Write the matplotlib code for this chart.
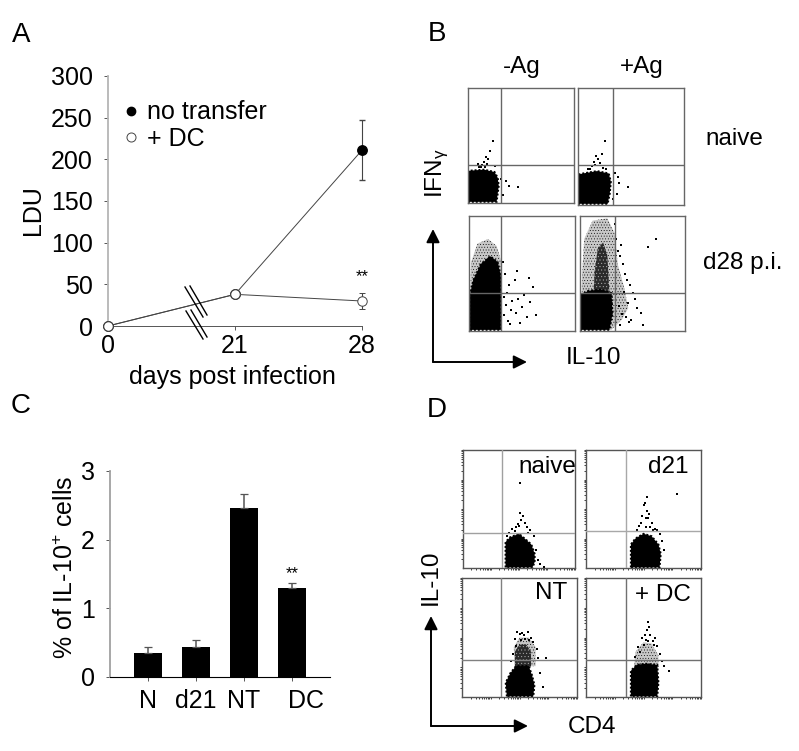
import matplotlib
matplotlib.use("Agg")
import matplotlib.pyplot as plt
import numpy as np
from matplotlib.lines import Line2D
from matplotlib.transforms import ScaledTranslation

plt.rcParams['font.family'] = ['Liberation Sans', 'DejaVu Sans']
plt.rcParams['mathtext.default'] = 'regular'
plt.rcParams['hatch.linewidth'] = 0.3

W, H = 799, 751

# panel A
dias = ["0", "21", "28"]
no_transfer = [0, 38, 211]
no_transfer_err = [0, 0, 36]
mas_dc = [0, 38, 30]
mas_dc_err = [0, 0, 10]
ldu_ticks = [0, 50, 100, 150, 200, 250, 300]

# panel C
grupos = ["N", "d21", "NT", "DC"]
il10 = [0.35, 0.44, 2.46, 1.30]
il10_err = [0.08, 0.10, 0.20, 0.065]

# flow plots, all coordinates in % of the plot box
b_cores = [
    [(0, 1), (27, 1), (28, 8), (29, 15), (28, 22), (25, 27), (15, 29), (0, 28)],
    [(0, 1), (28, 1), (30, 10), (31, 20), (29, 27), (18, 29), (5, 27), (0, 26)],
    [(1, 1), (30, 1), (30, 48), (27, 60), (20, 65), (11, 58), (4, 44), (1, 32)],
    [(0, 1), (28, 1), (31, 15), (30, 33), (20, 36), (8, 35), (0, 31)],
]
b_mid = [
    None,
    None,
    None,
    [(13, 34), (14, 52), (17, 72), (22, 77), (26, 66), (27, 50), (28, 34)],
]
b_haze = [
    None,
    None,
    [(1, 1), (30, 1), (30, 62), (26, 74), (18, 80), (8, 76), (2, 60), (1, 30)],
    [(1, 1), (30, 1), (40, 10), (46, 20), (42, 38), (36, 58), (33, 85), (26, 98), (12, 96),
     (4, 80), (2, 50)],
]
b_dots = [
    ([13, 15, 17, 19, 24, 12, 25, 31, 36, 39, 47, 33, 21, 10, 9, 16, 18],
     [33, 36, 40, 38, 54, 31, 32, 21, 19, 15, 14, 7, 45, 31, 34, 31, 34]),
    ([13, 15, 17, 19, 21, 25, 9, 24, 35, 38, 39, 47, 37, 33, 26, 23, 16, 11],
     [33, 37, 42, 39, 36, 55, 31, 32, 27, 24, 19, 15, 9, 5, 31, 44, 34, 31]),
    ([33, 35, 40, 44, 46, 52, 58, 38, 43, 55, 34, 37, 48, 60, 32, 36, 41, 50, 63, 57, 33, 39, 45],
     [30, 23, 18, 16, 28, 31, 25, 40, 44, 12, 50, 9, 7, 38, 60, 33, 26, 21, 14, 46, 14, 6, 52]),
    ([36, 38, 41, 43, 45, 48, 50, 52, 37, 40, 44, 47, 54, 58, 65, 72, 34, 39, 42, 46, 49, 60, 38, 33],
     [70, 65, 58, 50, 44, 40, 33, 28, 22, 15, 12, 8, 20, 16, 73, 80, 80, 75, 34, 24, 10, 5, 5, 93]),
]
b_gates = [(31, 33), (33, 34), (30, 33), (33, 33)]

d_cores = [
    [(38, 0.5), (38, 22), (42, 26), (50, 29), (55, 25), (61, 20), (64, 12), (64, 5), (62, 0.5)],
    [(39, 0.5), (39, 20), (43, 25), (50, 29), (57, 27), (63, 20), (65, 12), (64, 0.5)],
    [(39, 0.5), (38, 12), (42, 20), (47, 26), (58, 26), (61, 18), (63, 10), (62, 0.5)],
    [(39, 0.5), (39, 22), (44, 27), (52, 28), (62, 27), (63, 12), (62, 0.5)],
]
d_mid = [
    None,
    None,
    [(46, 25), (46, 38), (50, 44), (56, 44), (60, 38), (60, 25)],
    None,
]
d_haze = [
    None,
    None,
    [(46, 25), (45, 42), (50, 50), (58, 50), (64, 42), (64, 26)],
    [(42, 27), (43, 38), (50, 46), (57, 45), (63, 35), (63, 25)],
]
d_dots = [
    ([51, 51, 52, 49, 47, 55, 57, 44, 60, 41, 63, 67, 69, 72, 54, 46, 50, 58, 39, 65],
     [72, 47, 41, 37, 35, 38, 35, 33, 32, 30, 27, 7, 3, 1, 44, 31, 36, 30, 27, 15]),
    ([53, 51, 50, 53, 55, 79, 52, 48, 46, 57, 60, 62, 66, 68, 49, 56, 54, 44, 64, 52, 58],
     [60, 55, 53, 48, 46, 63, 42, 38, 36, 38, 33, 32, 23, 15, 44, 35, 42, 32, 29, 35, 32]),
    ([48, 50, 52, 54, 57, 46, 60, 62, 65, 73, 66, 44, 43, 68, 70, 55, 58, 51, 47],
     [55, 53, 54, 52, 55, 49, 50, 46, 40, 33, 33, 36, 30, 20, 8, 49, 48, 48, 43]),
    ([54, 55, 53, 51, 49, 56, 60, 58, 62, 45, 43, 66, 68, 72, 54, 52, 59, 50, 47, 64],
     [63, 59, 56, 52, 50, 52, 50, 47, 43, 42, 34, 30, 26, 22, 47, 48, 44, 44, 38, 36]),
]
d_gates = [(35, 30), (35, 31), (34, 31), (35, 31)]


def ejes_px(fig, izq, arriba, der, abajo):
    return fig.add_axes([izq / W, 1 - abajo / H, (der - izq) / W, (abajo - arriba) / H])


def panelA(fig):
    ax = ejes_px(fig, 108, 76, 362, 326)
    x = np.arange(len(dias))
    ax.errorbar(x, no_transfer, yerr=no_transfer_err, color='#444444', lw=0.7, marker='o',
                ms=6.8, mfc='black', mec='black', capsize=2, elinewidth=0.8, clip_on=False, zorder=3)
    ax.errorbar(x, mas_dc, yerr=mas_dc_err, color='#444444', lw=0.7, marker='o',
                ms=6.8, mfc='white', mec='#444444', mew=0.7, capsize=2, elinewidth=0.8,
                clip_on=False, zorder=4)
    ax.set_xlim(0, 2)
    ax.set_ylim(0, 300)
    ax.set_yticks(ldu_ticks)
    ax.set_xticks(x)
    ax.set_xticklabels(dias)
    ax.tick_params(axis='both', labelsize=18, length=3, width=0.7, color='#555555')
    ax.tick_params(axis='x', pad=3)
    ax.tick_params(axis='y', pad=8)
    for lado in ['top', 'right']:
        ax.spines[lado].set_visible(False)
    ax.spines['left'].set_color('#b5b5b5')
    ax.spines['left'].set_linewidth(1.3)
    ax.spines['bottom'].set_color('#555555')
    ax.spines['bottom'].set_linewidth(0.7)
    ax.set_ylabel("LDU", fontsize=18, labelpad=4, y=0.464)
    ax.set_xlabel("days post infection", fontsize=18, labelpad=5, x=0.49)
    ax.text(2, 59, "**", ha='center', va='center', fontsize=12)
    handles = [Line2D([], [], ls='none', marker='o', ms=6, mfc='black', mec='black'),
               Line2D([], [], ls='none', marker='o', ms=6.5, mfc='white', mec='#444444', mew=0.7)]
    ax.legend(handles, ["no transfer", "+ DC"], loc='upper left', bbox_to_anchor=(-0.037, 0.992),
              frameon=False, fontsize=18, handlelength=0.8, handletextpad=0.25, labelspacing=0.1)


def panelC(fig):
    ax = ejes_px(fig, 110, 471, 330, 677)
    x = np.arange(len(grupos))
    ax.bar(x, il10, width=0.6, color='black', zorder=2,
           yerr=[[0] * len(il10), il10_err], ecolor='#555555',
           error_kw=dict(elinewidth=1.1, capsize=3, capthick=0.9))
    ax.set_xlim(-0.79, 3.79)
    ax.set_ylim(0, 3)
    ax.set_yticks([0, 1, 2, 3])
    ax.set_xticks(x)
    ax.set_xticklabels(grupos)
    ax.tick_params(axis='both', labelsize=18, length=3, width=0.7, color='#555555')
    ax.tick_params(axis='x', pad=6)
    ax.tick_params(axis='y', pad=8)
    # DC label sits to the right of its bar in the original
    ax.get_xticklabels()[3].set_transform(ax.get_xticklabels()[3].get_transform()
                                          + ScaledTranslation(0.14, 0, fig.dpi_scale_trans))
    for lado in ['top', 'right']:
        ax.spines[lado].set_visible(False)
    ax.spines['left'].set_color('#a0a0a0')
    ax.spines['left'].set_linewidth(1.3)
    ax.spines['bottom'].set_linewidth(0.8)
    ax.set_ylabel("% of IL-10$^{+}$ cells", fontsize=18, labelpad=2, y=0.534)
    ax.text(3, 1.51, "**", ha='center', va='center', fontsize=12)


def flow(fig, caja, core, mid, haze, dots, gate, color_caja, color_gate, marcas=False):
    ax = ejes_px(fig, *caja)
    ax.set_xlim(0, 100)
    ax.set_ylim(0, 100)
    if haze is not None:
        hx, hy = zip(*haze)
        ax.fill(hx, hy, facecolor='#c8c8c8', edgecolor='black', lw=0, hatch='......', zorder=1)
    if mid is not None:
        mx, my = zip(*mid)
        ax.fill(mx, my, facecolor='#2a2a2a', edgecolor='#bbbbbb', lw=0, hatch='.....', zorder=1.5)
    cx, cy = zip(*core)
    ax.fill(cx, cy, facecolor='black', edgecolor='black', lw=1.4, ls=(0, (1, 1)), zorder=2)
    ax.scatter(dots[0], dots[1], s=0.6, c='black', marker='s', linewidths=0, zorder=3)
    ax.axvline(gate[0], color=color_gate, lw=1.0, zorder=4)
    ax.axhline(gate[1], color=color_gate, lw=1.0, zorder=4)
    for s in ax.spines.values():
        s.set_color(color_caja)
        s.set_linewidth(1.0)
    if marcas:
        # log style ticks, four decades
        pos = np.concatenate([(d + np.log10(np.arange(2, 11))) * 25 for d in range(4)])
        ax.set_xticks(pos)
        ax.set_yticks(pos)
        ax.tick_params(length=1.5, width=0.6, color='#222222', labelbottom=False, labelleft=False)
    else:
        ax.set_xticks([])
        ax.set_yticks([])


def main():
    fig = plt.figure(figsize=(W / 100, H / 100), dpi=100, facecolor='white')

    panelA(fig)
    panelC(fig)

    cajas_b = [(468, 88, 574, 203), (578, 88, 684, 205), (469, 216, 575, 331), (580, 216, 685, 331)]
    for i in range(4):
        flow(fig, cajas_b[i], b_cores[i], b_mid[i], b_haze[i], b_dots[i], b_gates[i],
             '#666666', '#666666')

    cajas_d = [(463, 450, 575, 568), (586, 450, 701, 568), (462, 578, 577, 697), (586, 578, 701, 697)]
    colores_gate = ['#a0a0a0', '#a8a8a8', '#808080', '#707070']
    for i in range(4):
        flow(fig, cajas_d[i], d_cores[i], d_mid[i], d_haze[i], d_dots[i], d_gates[i], '#555555',
             colores_gate[i], marcas=True)

    # overlay in pixel coordinates for the labels and arrows
    ov = fig.add_axes([0, 0, 1, 1], zorder=10)
    ov.set_xlim(0, W)
    ov.set_ylim(H, 0)
    ov.axis('off')

    for letra, px, py in [("A", 21, 35), ("B", 437, 34), ("C", 21, 406), ("D", 437, 410)]:
        ov.text(px, py, letra, fontsize=20, ha='center', va='center')

    for t, px, py, rot in [("-Ag", 522, 67, 0), ("+Ag", 642, 67, 0), ("naive", 734, 139, 0),
                           ("d28 p.i.", 743, 263, 0), ("IL-10", 593, 358, 0),
                           ("IFN$_{\\gamma}$", 437, 173, 90), ("naive", 547, 467, 0), ("d21", 668, 467, 0),
                           ("NT", 551, 593, 0), ("+ DC", 663, 595, 0), ("IL-10", 431, 577, 90),
                           ("CD4", 592, 727, 0)]:
        ov.text(px, py, t, fontsize=17.5, ha='center', va='center', rotation=rot)

    # axis break marks of panel A
    for (x0, y0, x1, y1) in [(185, 287, 203, 317), (190, 286, 207, 315),
                             (186, 311, 203, 339), (191, 310, 207, 337)]:
        ov.plot([x0, x1], [y0, y1], color='black', lw=1.0)

    # arrows next to the flow plots
    for (x0, y0, x1, y1) in [(433, 362, 433, 229), (433, 362, 527, 362),
                             (431, 726, 431, 616), (431, 726, 528, 726)]:
        ov.annotate("", xy=(x1, y1), xytext=(x0, y0),
                    arrowprops=dict(arrowstyle='-|>', color='black', lw=1.4, mutation_scale=20,
                                    shrinkA=0, shrinkB=0))

    fig.savefig("out.png", dpi=100)


if __name__ == "__main__":
    main()
